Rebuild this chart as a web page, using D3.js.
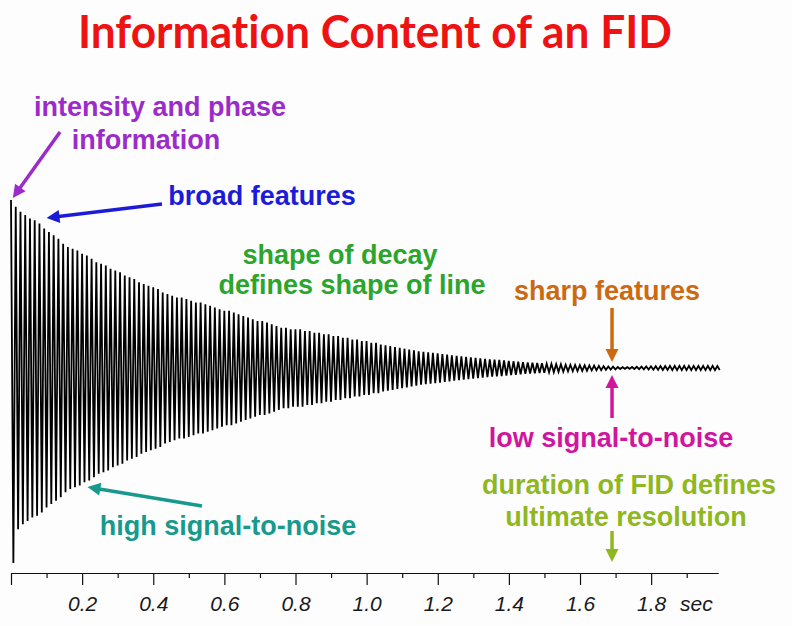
<!DOCTYPE html>
<html><head><meta charset="utf-8">
<script src="https://cdn.jsdelivr.net/npm/d3@7"></script>
<style>body{margin:0;background:#fdfdfd;} svg{display:block} text{font-variant-ligatures:none;}</style>
</head><body><svg id="c" width="792" height="626"></svg>
<script>
// ---------- data ----------
const titleText = "Information Content of an FID";
const majorTicks = [0, 0.2, 0.4, 0.6, 0.8, 1.0, 1.2, 1.4, 1.6, 1.8];
const minorTicks = [0.1, 0.3, 0.5, 0.7, 0.9, 1.1, 1.3, 1.5, 1.7, 1.9];
const tickLabels = ["", "0.2", "0.4", "0.6", "0.8", "1.0", "1.2", "1.4", "1.6", "1.8"];
const axisUnit = "sec";
const cyclePeriod = 0.01333;           // seconds per oscillation
const firstTrough = -116;              // first (deeper) negative excursion
// peak amplitude of each oscillation cycle (a.u., 100 = first point)
const cyclePeaks = [100,96,93,91,89,88,86,83,81,79,
 77,74,72,71,70,68,67,65,63,62,
 61,59,58,57,55,54,53,51,50,49,
 48,47,45,44,43,42,42,41,40,39,
 39,38,37,36,35,34,34,33,32,31,
 30,29,28,28,27,26,25,24,24,23,
 23,23,22,22,21,21,20,20,19,19,
 18,18,17,17,16,16,15,15,14,13.5,
 13,12.5,12,11.5,11,10.5,10,9.7,9.4,9,
 8.7,8.3,8,7.6,7.3,7,6.7,6.4,6.1,5.8,
 5.5,5.2,5,4.8,4.5,4.2,4,3.7,3.5,3.3,
 3.1,3,2.8,2.6,2.5,2.3,2.2,2,1.9,1.8,
 1.7,1.6,1.5,1.4,1.3,1.1,0.9,0.8,0.6,0.5,
 0.5,0.6,0.7,0.8,0.9,1,1.1,1.2,1.2,1.3,
 1.3,1.3,1.3,1.3,1.3,1.3,1.3,1.3,1.3,1.2];
const noteIntensity = ["intensity and phase", "information"];
const noteBroad = ["broad features"];
const noteShape = ["shape of decay", "defines shape of line"];
const noteSharp = ["sharp features"];
const noteLow = ["low signal-to-noise"];
const noteDuration = ["duration of FID defines", "ultimate resolution"];
const noteHigh = ["high signal-to-noise"];

// ---------- drawing ----------
const svg = d3.select("#c");
svg.append("rect").attr("width", 792).attr("height", 626).attr("fill", "#fdfdfd");

const x = d3.scaleLinear().domain([0, 1.988]).range([11, 718]);
const y = d3.scaleLinear().domain([-100, 100]).range([536, 200]);

// title
svg.append("text").attr("x", 375).attr("y", 48).attr("text-anchor", "middle")
  .attr("font-family", "Lato, 'Liberation Sans', sans-serif").attr("font-weight", "bold")
  .attr("font-size", 46).attr("fill", "#ee1313")
  .attr("textLength", 594).attr("lengthAdjust", "spacingAndGlyphs")
  .text(titleText);

// FID signal
const pts = [];
cyclePeaks.forEach((a, k) => {
  const t = k * cyclePeriod;
  pts.push([t, a]);
  pts.push([t + cyclePeriod / 2, k === 0 ? firstTrough : -a]);
});
svg.append("path").datum(pts)
  .attr("d", d3.line().x(d => x(d[0])).y(d => y(d[1])))
  .attr("fill", "none").attr("stroke", "#000").attr("stroke-width", 1.8)
  .attr("stroke-linejoin", "miter");

// axis
const axisY = 573;
const gMinor = svg.append("g").attr("transform", `translate(0,${axisY})`)
  .call(d3.axisBottom(x).tickValues(minorTicks).tickSize(5).tickSizeOuter(0).tickFormat(""));
const gMajor = svg.append("g").attr("transform", `translate(0,${axisY})`)
  .call(d3.axisBottom(x).tickValues(majorTicks).tickSize(12).tickSizeOuter(0).tickPadding(11)
    .tickFormat((d, i) => tickLabels[i]));
[gMinor, gMajor].forEach(g => {
  g.selectAll("path,line").attr("stroke", "#111").attr("stroke-width", 1.2);
  g.selectAll("text").attr("font-family", "'Liberation Sans', Arial, sans-serif")
    .attr("font-style", "italic").attr("font-size", 21).attr("fill", "#1a1a1a");
});
svg.append("text").attr("x", 680).attr("y", 611)
  .attr("font-family", "'Liberation Sans', Arial, sans-serif")
  .attr("font-style", "italic").attr("font-size", 21).attr("fill", "#1a1a1a").text(axisUnit);

// annotations
function note(lines, cx, baselines, color) {
  lines.forEach((s, i) => {
    svg.append("text").attr("x", cx[i]).attr("y", baselines[i]).attr("text-anchor", "middle")
      .attr("font-family", "'Liberation Sans', Arial, sans-serif").attr("font-weight", "bold")
      .attr("font-size", 27).attr("fill", color).text(s);
  });
}
function arrow(x1, y1, x2, y2, color) {
  const dx = x2 - x1, dy = y2 - y1, L = Math.hypot(dx, dy);
  const ux = dx / L, uy = dy / L, hl = 13, hw = 6.5;
  const bx = x2 - ux * hl, by = y2 - uy * hl;
  svg.append("line").attr("x1", x1).attr("y1", y1).attr("x2", bx + ux).attr("y2", by + uy)
    .attr("stroke", color).attr("stroke-width", 3.5);
  svg.append("path").attr("d",
    `M${x2},${y2}L${bx - uy * hw},${by + ux * hw}L${bx + uy * hw},${by - ux * hw}Z`)
    .attr("fill", color);
}
const cPurple = "#9b2cc9", cBlue = "#1b1bd8", cGreen = "#2ca52c", cOrange = "#cc6a12",
  cMagenta = "#d0169e", cLime = "#8fb820", cTeal = "#17998d";

note(noteIntensity, [160, 146], [116, 149], cPurple);
arrow(60, 132, x(0.005), y(100) - 2, cPurple);
note(noteBroad, [262], [205], cBlue);
arrow(162, 204, x(0.10), 218, cBlue);
note(noteShape, [340, 352], [264, 294], cGreen);
note(noteSharp, [607], [300], cOrange);
const tMark = 1.69;
arrow(x(tMark), 308, x(tMark), 362, cOrange);
arrow(x(tMark), 418, x(tMark), 375, cMagenta);
note(noteLow, [611], [447], cMagenta);
note(noteDuration, [629, 626], [494, 526], cLime);
arrow(x(tMark), 531, x(tMark), 562, cLime);
note(noteHigh, [228], [535], cTeal);
arrow(202, 506, x(0.215), 487, cTeal);
</script></body></html>
